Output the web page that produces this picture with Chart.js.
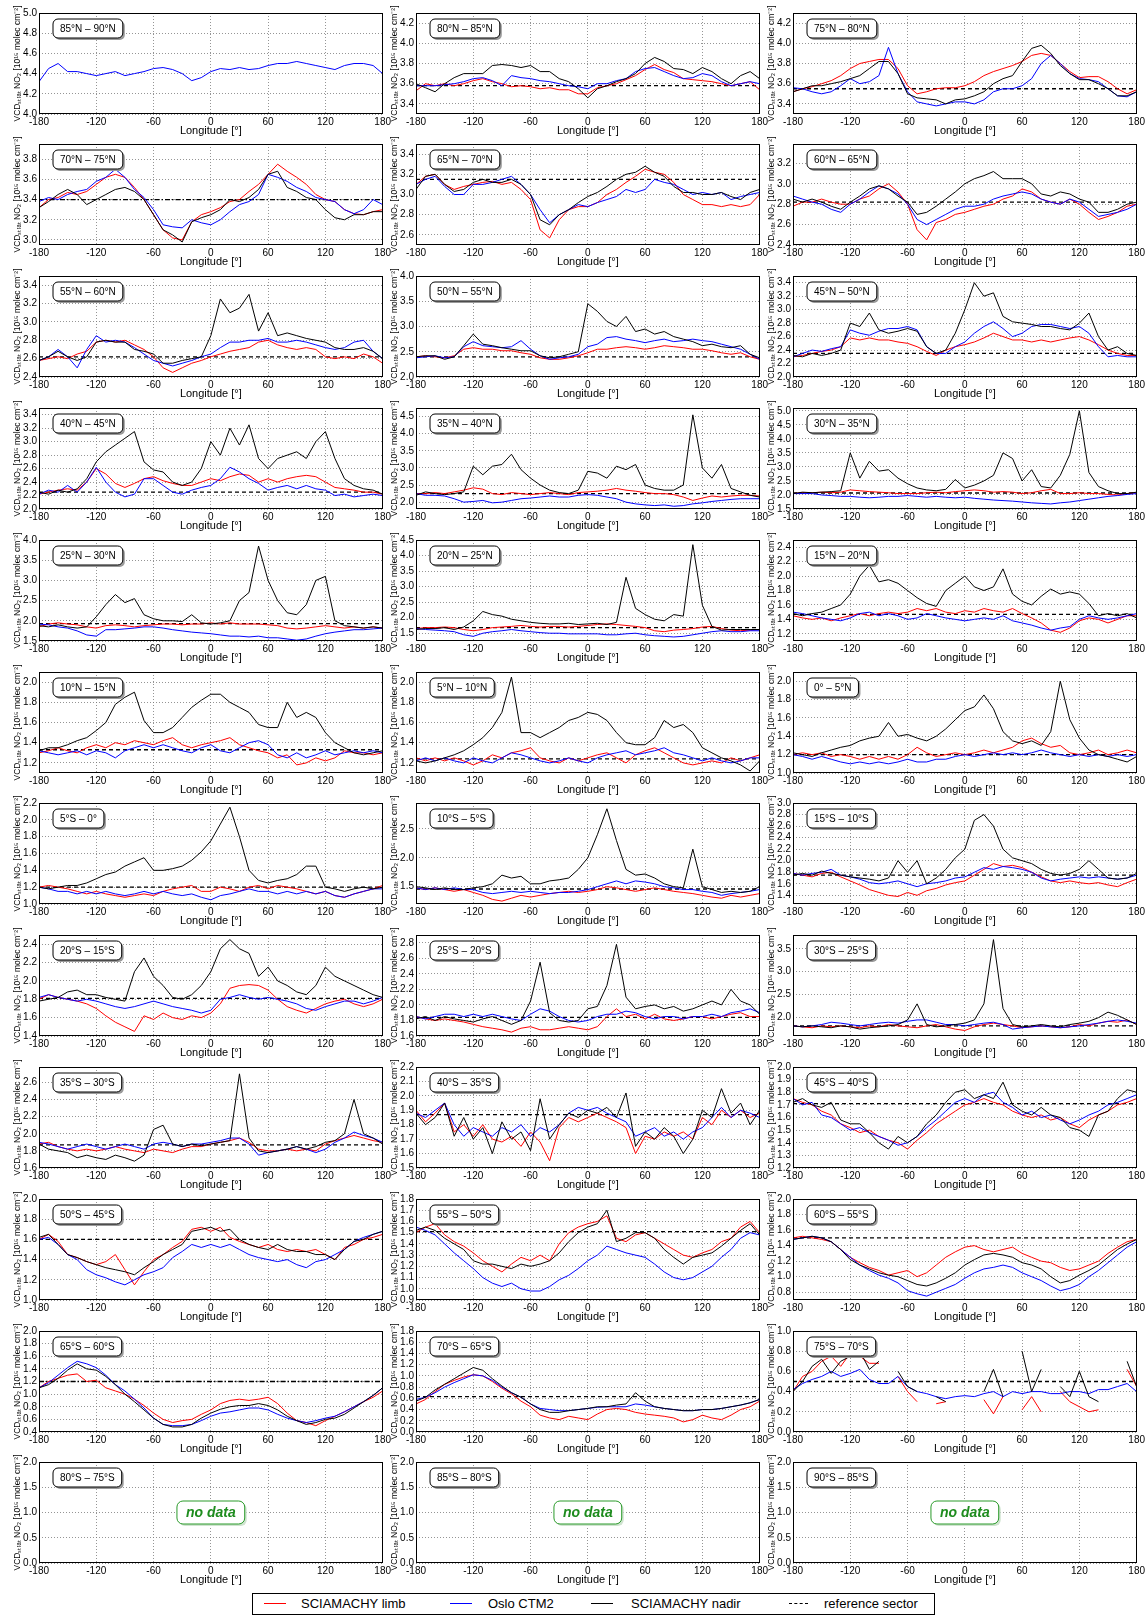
<!DOCTYPE html>
<html>
<head>
<meta charset="utf-8">
<script src="https://cdn.jsdelivr.net/npm/chart.js@4.4.1/dist/chart.umd.min.js"></script>
<style>
  body { margin: 0; background: #fff; width: 1145px; height: 1615px; position: relative; overflow: hidden;
         font-family: 'Liberation Sans', Arial, sans-serif; }
  canvas.panel { position: absolute; }
  #legend { position: absolute; left: 252px; top: 1593px; width: 683px; height: 22px; border: 1px solid #000;
            box-sizing: border-box; background: #fff; font-size: 13px; }
  #legend .ln { position: absolute; top: 9px; width: 22px; height: 0; border-top: 1.5px solid #000; }
  #legend .tx { position: absolute; top: 2px; white-space: nowrap; }
</style>
</head>
<body>
<div id="legend">
  <div class="ln" style="left:11px;border-top-color:#f00"></div><div class="tx" style="left:48px">SCIAMACHY limb</div>
  <div class="ln" style="left:197px;border-top-color:#00f"></div><div class="tx" style="left:235px">Oslo CTM2</div>
  <div class="ln" style="left:338px"></div><div class="tx" style="left:378px">SCIAMACHY nadir</div>
  <div class="ln" style="left:536px;width:19px;border-top-style:dashed"></div><div class="tx" style="left:571px">reference sector</div>
</div>
<script>
// =======================
// DATA
// =======================
const lon = [-180,-170,-160,-150,-140,-130,-120,-110,-100,-90,-80,-70,-60,-50,-40,-30,-20,-10,
             0,10,20,30,40,50,60,70,80,90,100,110,120,130,140,150,160,170,180];

const panelLabels = [
  '85°N – 90°N','80°N – 85°N','75°N – 80°N',
  '70°N – 75°N','65°N – 70°N','60°N – 65°N',
  '55°N – 60°N','50°N – 55°N','45°N – 50°N',
  '40°N – 45°N','35°N – 40°N','30°N – 35°N',
  '25°N – 30°N','20°N – 25°N','15°N – 20°N',
  '10°N – 15°N','5°N – 10°N','0° – 5°N',
  '5°S – 0°','10°S – 5°S','15°S – 10°S',
  '20°S – 15°S','25°S – 20°S','30°S – 25°S',
  '35°S – 30°S','40°S – 35°S','45°S – 40°S',
  '50°S – 45°S','55°S – 50°S','60°S – 55°S',
  '65°S – 60°S','70°S – 65°S','75°S – 70°S',
  '80°S – 75°S','85°S – 80°S','90°S – 85°S'
];

const yMins  = [4.0,3.3,3.3, 2.95,2.5,2.4, 2.4,2.0,2.0, 2.0,1.8,1.5, 1.5,1.25,1.1, 1.1,1.1,1.0,
                1.0,1.2,1.25, 1.4,1.6,1.6, 1.6,1.5,1.2, 1.0,0.9,0.7, 0.4,0.0,0.0, 0.0,0.0,0.0];
const yMaxs  = [5.0,4.3,4.3, 3.95,3.5,3.39, 3.5,4.0,3.5, 3.5,4.75,5.1, 4.0,4.5,2.5, 2.1,2.1,2.1,
                2.2,2.95,3.0, 2.5,2.9,3.8, 2.78,2.2,2.0, 2.0,1.8,2.0, 2.0,1.8,1.0, 2.0,2.0,2.0];
const ySteps = [0.2,0.2,0.2, 0.2,0.2,0.2, 0.2,0.5,0.2, 0.2,0.5,0.5, 0.5,0.5,0.2, 0.2,0.2,0.2,
                0.2,0.5,0.2, 0.2,0.2,0.5, 0.2,0.1,0.1, 0.2,0.1,0.2, 0.2,0.2,0.2, 0.5,0.5,0.5];
const refValues = [null,3.58,3.55, 3.40,3.15,2.82, 2.62,2.40,2.35, 2.25,2.25,2.07, 1.93,1.68,1.47,
                   1.33,1.24,1.20, 1.20,1.46,1.75, 1.81,1.84,1.82, 1.87,1.87,1.71, 1.60,1.51,1.50,
                   1.20,0.63,0.50, null,null,null];
const dashDotPanels = [3, 30];

// 85N-90N (model only)
const ctm_N85_90 = [4.32,4.45,4.50,4.42,4.42,4.40,4.38,4.40,4.42, 4.38,4.40,4.42,4.45,4.46,4.44,4.40,4.33,4.36,
  4.42,4.45,4.44,4.46,4.44,4.45,4.48,4.50,4.50, 4.52,4.50,4.48,4.46,4.44,4.48,4.50,4.50,4.48,4.40];
// 80N-85N
const limb_N80_85 = [3.53,3.60,3.58,3.60,3.58,3.60,3.63,3.65,3.62, 3.60,3.57,3.58,3.57,3.55,3.56,3.54,3.54,3.50,
  3.50,3.56,3.58,3.60,3.64,3.68,3.74,3.79,3.74, 3.71,3.65,3.64,3.63,3.62,3.60,3.58,3.60,3.62,3.54];
const ctm_N80_85 = [3.58,3.58,3.58,3.59,3.60,3.62,3.65,3.66,3.63, 3.58,3.68,3.66,3.65,3.63,3.62,3.60,3.58,3.57,
  3.55,3.60,3.60,3.63,3.65,3.72,3.75,3.76,3.72, 3.68,3.65,3.66,3.70,3.68,3.62,3.58,3.60,3.62,3.60];
const nadir_N80_85 = [3.60,3.56,3.52,3.60,3.66,3.70,3.70,3.70,3.78, 3.79,3.78,3.76,3.78,3.72,3.72,3.65,3.62,3.55,
  3.46,3.55,3.58,3.62,3.65,3.70,3.80,3.86,3.82, 3.75,3.74,3.70,3.76,3.72,3.65,3.60,3.68,3.72,3.65];
// 75N-80N
const limb_N75_80 = [3.52,3.55,3.57,3.60,3.63,3.68,3.75,3.80,3.82, 3.84,3.84,3.75,3.58,3.50,3.52,3.55,3.56,3.56,
  3.58,3.62,3.68,3.72,3.75,3.78,3.82,3.88,3.90, 3.88,3.80,3.72,3.66,3.67,3.67,3.62,3.55,3.50,3.54];
const ctm_N75_80 = [3.56,3.55,3.52,3.50,3.52,3.58,3.65,3.60,3.62, 3.68,3.96,3.70,3.52,3.42,3.40,3.38,3.40,3.42,
  3.42,3.40,3.44,3.52,3.55,3.55,3.58,3.65,3.80, 3.88,3.80,3.70,3.65,3.64,3.62,3.55,3.48,3.47,3.52];
const nadir_N75_80 = [3.52,3.55,3.58,3.58,3.60,3.62,3.65,3.68,3.75, 3.82,3.82,3.70,3.50,3.46,3.45,3.44,3.40,3.44,
  3.45,3.48,3.52,3.60,3.65,3.68,3.82,3.95,3.98, 3.90,3.78,3.70,3.64,3.64,3.60,3.55,3.48,3.48,3.52];
// 70N-75N
const limb_N70_75 = [3.32,3.40,3.42,3.47,3.45,3.48,3.55,3.62,3.65, 3.62,3.52,3.40,3.25,3.10,3.02,3.00,3.18,3.25,
  3.28,3.32,3.38,3.40,3.48,3.55,3.65,3.75,3.68, 3.62,3.55,3.45,3.40,3.38,3.30,3.26,3.25,3.28,3.30];
const ctm_N70_75 = [3.38,3.42,3.40,3.45,3.48,3.50,3.58,3.62,3.70, 3.62,3.50,3.42,3.30,3.15,3.13,3.12,3.20,3.17,
  3.15,3.20,3.28,3.35,3.38,3.45,3.65,3.62,3.58, 3.52,3.48,3.42,3.40,3.38,3.30,3.26,3.30,3.40,3.35];
const nadir_N70_75 = [3.32,3.38,3.45,3.50,3.45,3.35,3.40,3.45,3.50, 3.52,3.48,3.40,3.25,3.10,3.05,2.98,3.18,3.22,
  3.25,3.30,3.40,3.38,3.42,3.50,3.65,3.68,3.52, 3.48,3.42,3.40,3.30,3.22,3.20,3.25,3.25,3.28,3.28];
// 65N-70N
const limb_N65_70 = [3.10,3.18,3.20,3.10,3.05,3.08,3.10,3.12,3.13, 3.10,3.12,3.05,2.95,2.65,2.57,2.75,2.85,2.88,
  2.88,2.92,3.00,3.05,3.12,3.18,3.25,3.22,3.20, 3.12,3.00,2.95,2.90,2.90,2.88,2.90,2.88,2.90,3.00];
const ctm_N65_70 = [3.10,3.15,3.18,3.08,3.00,3.00,3.10,3.10,3.12, 3.15,3.18,3.10,3.00,2.85,2.72,2.80,2.85,2.90,
  2.88,2.92,2.95,2.98,3.05,3.02,3.05,3.15,3.12, 3.10,3.05,3.00,3.02,3.00,3.02,2.95,2.98,3.00,3.02];
const nadir_N65_70 = [3.05,3.18,3.20,3.10,3.03,3.05,3.12,3.15,3.12, 3.12,3.15,3.10,3.00,2.75,2.70,2.80,2.85,2.92,
  2.98,3.02,3.08,3.15,3.20,3.22,3.28,3.22,3.18, 3.08,3.02,3.02,3.00,3.00,3.02,2.98,2.95,3.02,3.05];
// 60N-65N
const limb_N60_65 = [2.78,2.82,2.82,2.85,2.82,2.80,2.80,2.85,2.88, 2.95,3.00,2.92,2.80,2.55,2.45,2.62,2.65,2.70,
  2.72,2.75,2.78,2.80,2.85,2.88,2.95,2.92,2.85, 2.82,2.80,2.85,2.80,2.72,2.65,2.68,2.72,2.78,2.80];
const ctm_N60_65 = [2.88,2.85,2.82,2.80,2.75,2.72,2.80,2.85,2.92, 2.98,2.95,2.90,2.80,2.65,2.60,2.65,2.70,2.75,
  2.78,2.78,2.80,2.85,2.88,2.90,2.92,2.90,2.85, 2.82,2.80,2.85,2.82,2.75,2.68,2.70,2.72,2.75,2.80];
const nadir_N60_65 = [2.85,2.82,2.85,2.82,2.78,2.75,2.82,2.88,2.95, 2.98,2.95,2.88,2.82,2.70,2.72,2.78,2.85,2.92,
  3.00,3.05,3.08,3.12,3.05,3.05,3.05,3.00,2.90, 2.88,2.92,2.90,2.85,2.82,2.72,2.72,2.75,2.80,2.82];
// 55N-60N
const limb_N55_60 = [2.58,2.60,2.62,2.60,2.65,2.68,2.78,2.80,2.78, 2.80,2.75,2.70,2.62,2.50,2.45,2.50,2.55,2.58,
  2.62,2.65,2.68,2.70,2.72,2.78,2.80,2.75,2.72, 2.70,2.72,2.70,2.62,2.60,2.62,2.60,2.65,2.62,2.55];
const ctm_N55_60 = [2.58,2.62,2.70,2.62,2.50,2.70,2.85,2.78,2.80, 2.78,2.72,2.65,2.58,2.55,2.52,2.55,2.58,2.62,
  2.65,2.72,2.78,2.78,2.80,2.80,2.82,2.78,2.78, 2.80,2.78,2.75,2.72,2.70,2.72,2.78,2.80,2.68,2.60];
const nadir_N55_60 = [2.58,2.62,2.68,2.62,2.58,2.62,2.78,2.80,2.78, 2.78,2.70,2.68,2.65,2.55,2.55,2.58,2.60,2.62,
  2.85,3.25,3.10,3.15,3.30,2.90,3.10,2.85,2.88, 2.85,2.82,2.80,2.78,2.72,2.70,2.70,2.72,2.68,2.60];
// 50N-55N
const limb_N50_55 = [2.40,2.42,2.40,2.38,2.42,2.55,2.58,2.55,2.55, 2.52,2.52,2.48,2.45,2.38,2.35,2.35,2.38,2.42,
  2.48,2.55,2.55,2.58,2.60,2.58,2.55,2.58,2.62, 2.60,2.58,2.55,2.55,2.52,2.48,2.45,2.48,2.40,2.35];
const ctm_N50_55 = [2.38,2.40,2.42,2.38,2.40,2.60,2.70,2.62,2.60, 2.58,2.60,2.72,2.55,2.42,2.35,2.38,2.40,2.45,
  2.60,2.65,2.78,2.80,2.75,2.72,2.68,2.72,2.75, 2.70,2.72,2.75,2.72,2.70,2.65,2.60,2.55,2.45,2.35];
const nadir_N50_55 = [2.40,2.42,2.42,2.35,2.40,2.62,2.85,2.65,2.62, 2.58,2.55,2.52,2.52,2.42,2.38,2.40,2.45,2.50,
  3.45,3.30,3.10,3.00,3.20,2.90,2.95,2.85,2.90, 2.80,2.75,2.70,2.62,2.65,2.60,2.58,2.62,2.45,2.38];
// 45N-50N
const limb_N45_50 = [2.30,2.32,2.35,2.38,2.40,2.45,2.58,2.55,2.58, 2.55,2.55,2.52,2.50,2.45,2.38,2.32,2.40,2.45,
  2.48,2.52,2.58,2.65,2.60,2.55,2.55,2.52,2.55, 2.52,2.55,2.58,2.60,2.55,2.48,2.40,2.35,2.32,2.32];
const ctm_N45_50 = [2.30,2.35,2.40,2.38,2.42,2.45,2.70,2.65,2.62, 2.68,2.72,2.72,2.75,2.70,2.45,2.35,2.35,2.45,
  2.52,2.65,2.75,2.82,2.72,2.60,2.65,2.75,2.78, 2.78,2.75,2.72,2.75,2.65,2.45,2.30,2.32,2.30,2.30];
const nadir_N45_50 = [2.32,2.30,2.35,2.32,2.35,2.40,2.80,2.75,2.95, 2.70,2.65,2.68,2.72,2.68,2.45,2.35,2.40,2.65,
  3.00,3.40,3.20,3.25,2.90,2.82,2.80,2.78,2.75, 2.75,2.72,2.70,2.80,2.95,2.60,2.40,2.45,2.35,2.32];
// 40N-45N
const limb_N40_45 = [2.22,2.25,2.28,2.30,2.28,2.40,2.60,2.52,2.38, 2.32,2.38,2.45,2.48,2.42,2.38,2.35,2.35,2.40,
  2.45,2.42,2.48,2.52,2.50,2.40,2.45,2.40,2.45, 2.48,2.50,2.48,2.40,2.32,2.30,2.28,2.25,2.25,2.22];
const ctm_N40_45 = [2.22,2.28,2.25,2.35,2.25,2.40,2.62,2.40,2.25, 2.18,2.22,2.45,2.45,2.35,2.25,2.22,2.28,2.32,
  2.35,2.45,2.62,2.55,2.45,2.38,2.28,2.32,2.35, 2.30,2.35,2.30,2.28,2.20,2.22,2.18,2.20,2.22,2.20];
const nadir_N40_45 = [2.25,2.22,2.28,2.25,2.30,2.45,2.70,2.85,2.95, 3.05,3.15,2.70,2.58,2.55,2.40,2.35,2.40,2.60,
  3.00,2.80,3.20,2.95,3.25,2.75,2.60,2.75,2.80, 2.85,2.75,3.00,3.15,2.75,2.45,2.35,2.30,2.28,2.22];
// 35N-40N
const limb_N35_40 = [2.25,2.25,2.28,2.25,2.30,2.35,2.42,2.38,2.25, 2.22,2.28,2.25,2.22,2.25,2.28,2.25,2.22,2.28,
  2.30,2.32,2.35,2.40,2.35,2.32,2.28,2.25,2.25, 2.22,2.15,2.05,2.12,2.18,2.15,2.18,2.20,2.20,2.18];
const ctm_N35_40 = [2.25,2.20,2.20,2.18,2.10,2.00,2.02,2.05,1.98, 2.00,2.05,2.10,2.12,2.15,2.18,2.15,2.15,2.20,
  2.22,2.20,2.15,2.10,2.00,1.95,1.92,1.90,1.92, 1.88,1.90,1.95,1.98,2.02,2.05,2.08,2.10,2.10,2.10];
const nadir_N35_40 = [2.20,2.30,2.25,2.22,2.25,2.30,3.05,2.80,3.05, 3.10,3.40,2.95,2.70,2.50,2.35,2.28,2.25,2.35,
  2.90,2.85,2.70,3.05,2.95,3.10,2.50,2.40,2.35, 2.35,2.50,4.55,3.00,2.70,3.10,2.40,2.30,2.20,2.15];
// 30N-35N
const limb_N30_35 = [2.05,2.08,2.08,2.10,2.08,2.10,2.18,2.15,2.12, 2.10,2.08,2.05,2.05,2.05,2.08,2.10,2.08,2.12,
  2.15,2.18,2.15,2.10,2.12,2.10,2.05,2.08,2.15, 2.20,2.05,2.05,2.08,2.05,2.05,2.02,2.00,2.05,2.08];
const ctm_N30_35 = [2.05,2.05,2.05,2.00,1.98,1.95,1.95,1.92,1.90, 1.92,1.95,1.95,1.98,1.95,1.92,1.95,1.92,1.90,
  1.92,1.88,1.85,1.82,1.80,1.78,1.75,1.72,1.70, 1.68,1.72,1.75,1.80,1.85,1.90,1.95,1.98,2.02,2.05];
const nadir_N30_35 = [2.05,2.10,2.08,2.10,2.12,2.15,3.50,2.60,3.20, 2.85,2.90,2.60,2.40,2.25,2.18,2.15,2.20,2.55,
  2.25,2.35,2.50,2.70,3.50,3.30,2.50,2.90,2.30, 2.25,2.70,3.45,5.00,2.80,2.30,2.15,2.05,2.05,2.10];
// 25N-30N
const limb_N25_30 = [1.85,1.92,1.95,1.92,1.90,1.85,1.82,1.88,1.90, 1.88,1.85,1.88,1.90,1.92,1.92,1.90,1.92,1.92,
  1.95,1.92,1.95,1.92,1.92,1.92,1.90,1.88,1.82, 1.80,1.82,1.85,1.88,1.85,1.82,1.85,1.82,1.85,1.82];
const ctm_N25_30 = [1.92,1.90,1.85,1.82,1.75,1.65,1.62,1.78,1.78, 1.80,1.82,1.85,1.85,1.82,1.78,1.75,1.72,1.70,
  1.68,1.65,1.62,1.62,1.60,1.62,1.58,1.58,1.55, 1.52,1.55,1.62,1.68,1.72,1.75,1.78,1.78,1.80,1.82];
const nadir_N25_30 = [1.88,1.85,1.90,1.85,1.82,1.85,2.10,2.40,2.65, 2.45,2.55,2.15,2.05,2.00,2.00,1.98,2.15,1.95,
  1.92,1.95,2.00,2.50,2.70,3.85,3.00,2.50,2.20, 2.15,2.40,3.00,3.10,2.00,1.88,1.85,1.82,1.85,1.82];
// 20N-25N
const limb_N20_25 = [1.65,1.68,1.68,1.70,1.68,1.62,1.58,1.62,1.68, 1.70,1.72,1.75,1.72,1.70,1.72,1.72,1.70,1.72,
  1.75,1.78,1.80,1.78,1.75,1.72,1.68,1.58,1.55, 1.60,1.62,1.65,1.70,1.72,1.65,1.60,1.58,1.60,1.62];
const ctm_N20_25 = [1.65,1.62,1.60,1.58,1.55,1.45,1.40,1.50,1.55, 1.58,1.62,1.58,1.55,1.52,1.50,1.50,1.48,1.48,
  1.48,1.48,1.45,1.45,1.48,1.50,1.45,1.42,1.40, 1.38,1.40,1.45,1.50,1.55,1.58,1.55,1.55,1.58,1.58];
const nadir_N20_25 = [1.62,1.65,1.65,1.68,1.62,1.70,1.90,2.20,2.10, 2.05,1.95,1.90,1.85,1.82,1.80,1.80,1.82,1.78,
  1.80,1.82,1.78,1.85,3.30,2.30,2.10,1.95,1.90, 2.10,2.05,4.35,2.40,1.72,1.60,1.62,1.62,1.62,1.62];
// 15N-20N
const limb_N15_20 = [1.45,1.42,1.40,1.42,1.38,1.42,1.45,1.48,1.45, 1.48,1.50,1.48,1.50,1.55,1.52,1.55,1.50,1.48,
  1.52,1.50,1.55,1.52,1.50,1.55,1.48,1.42,1.35, 1.25,1.22,1.28,1.38,1.42,1.40,1.35,1.40,1.45,1.45];
const ctm_N15_20 = [1.50,1.48,1.45,1.42,1.40,1.38,1.42,1.48,1.50, 1.45,1.48,1.45,1.40,1.42,1.48,1.45,1.42,1.40,
  1.38,1.40,1.42,1.40,1.45,1.38,1.35,1.32,1.28, 1.25,1.28,1.30,1.40,1.45,1.42,1.40,1.42,1.45,1.48];
const nadir_N15_20 = [1.48,1.45,1.48,1.50,1.55,1.60,1.75,2.00,2.15, 1.92,1.95,1.90,1.80,1.70,1.62,1.58,1.80,1.90,
  2.00,1.85,1.80,1.85,2.10,1.75,1.65,1.60,1.72, 1.82,1.75,1.78,1.75,1.62,1.45,1.48,1.45,1.48,1.42];
// 10N-15N
const limb_N10_15 = [1.30,1.32,1.35,1.32,1.30,1.35,1.38,1.35,1.40, 1.38,1.42,1.40,1.38,1.42,1.45,1.38,1.35,1.38,
  1.40,1.42,1.45,1.38,1.35,1.32,1.30,1.25,1.28, 1.18,1.20,1.25,1.22,1.25,1.32,1.30,1.30,1.28,1.30];
const ctm_N10_15 = [1.32,1.30,1.28,1.30,1.32,1.28,1.32,1.30,1.25, 1.32,1.35,1.38,1.35,1.38,1.35,1.32,1.30,1.35,
  1.38,1.32,1.30,1.35,1.40,1.42,1.38,1.28,1.25, 1.30,1.25,1.28,1.32,1.28,1.30,1.32,1.30,1.32,1.30];
const nadir_N10_15 = [1.32,1.35,1.35,1.38,1.42,1.45,1.52,1.60,1.78, 1.85,1.90,1.62,1.50,1.50,1.55,1.65,1.75,1.82,
  1.88,1.88,1.80,1.75,1.70,1.58,1.55,1.55,1.80, 1.65,1.70,1.65,1.50,1.40,1.35,1.30,1.28,1.30,1.32];
// 5N-10N
const limb_N5_10 = [1.25,1.22,1.25,1.22,1.25,1.22,1.18,1.22,1.28, 1.25,1.30,1.32,1.35,1.25,1.22,1.20,1.25,1.22,
  1.25,1.28,1.30,1.25,1.20,1.28,1.32,1.35,1.30, 1.25,1.20,1.18,1.20,1.22,1.20,1.25,1.22,1.25,1.28];
const ctm_N5_10 = [1.22,1.25,1.22,1.25,1.22,1.20,1.25,1.22,1.20, 1.25,1.30,1.28,1.25,1.22,1.20,1.22,1.25,1.22,
  1.20,1.25,1.28,1.30,1.32,1.28,1.30,1.32,1.35, 1.30,1.28,1.25,1.22,1.25,1.22,1.20,1.22,1.25,1.25];
const nadir_N5_10 = [1.22,1.20,1.22,1.25,1.28,1.32,1.38,1.45,1.55, 1.70,2.05,1.50,1.50,1.45,1.50,1.55,1.62,1.65,
  1.70,1.68,1.62,1.50,1.40,1.38,1.38,1.45,1.62, 1.55,1.58,1.50,1.35,1.30,1.25,1.22,1.18,1.12,1.22];
// 0-5N
const limb_N0_5 = [1.20,1.22,1.20,1.22,1.18,1.20,1.18,1.15,1.18, 1.15,1.18,1.15,1.20,1.28,1.22,1.18,1.20,1.22,
  1.20,1.22,1.25,1.22,1.25,1.28,1.35,1.38,1.32, 1.28,1.30,1.22,1.20,1.22,1.25,1.20,1.22,1.25,1.22];
const ctm_N0_5 = [1.20,1.18,1.15,1.18,1.15,1.12,1.10,1.12,1.10, 1.12,1.10,1.12,1.15,1.12,1.12,1.15,1.15,1.18,
  1.20,1.18,1.20,1.22,1.20,1.22,1.20,1.22,1.25, 1.22,1.20,1.18,1.20,1.18,1.20,1.18,1.20,1.18,1.20];
const nadir_N0_5 = [1.22,1.20,1.18,1.22,1.25,1.28,1.30,1.35,1.38, 1.40,1.55,1.40,1.42,1.38,1.35,1.40,1.48,1.58,
  1.68,1.72,1.85,1.70,1.45,1.35,1.32,1.35,1.30, 1.45,2.00,1.58,1.38,1.25,1.20,1.18,1.15,1.12,1.18];
// 5S-0
const limb_S0_5 = [1.20,1.22,1.20,1.18,1.15,1.12,1.15,1.12,1.10, 1.08,1.10,1.12,1.10,1.15,1.18,1.20,1.22,1.15,
  1.15,1.20,1.18,1.15,1.20,1.22,1.18,1.22,1.20, 1.18,1.15,1.12,1.15,1.10,1.08,1.12,1.15,1.18,1.22];
const ctm_S0_5 = [1.20,1.18,1.15,1.15,1.12,1.15,1.12,1.15,1.12, 1.10,1.12,1.15,1.12,1.15,1.12,1.10,1.12,1.08,
  1.05,1.10,1.12,1.15,1.18,1.15,1.15,1.12,1.15, 1.12,1.15,1.12,1.15,1.10,1.08,1.12,1.15,1.18,1.18];
const nadir_S0_5 = [1.20,1.18,1.20,1.22,1.22,1.25,1.30,1.35,1.38, 1.45,1.50,1.55,1.40,1.40,1.42,1.45,1.52,1.62,
  1.75,1.95,2.15,1.80,1.40,1.28,1.25,1.28,1.30, 1.35,1.45,1.45,1.20,1.18,1.15,1.18,1.20,1.18,1.20];
// 10S-5S
const limb_S5_10 = [1.48,1.45,1.48,1.45,1.42,1.45,1.40,1.35,1.28, 1.25,1.30,1.35,1.32,1.35,1.38,1.40,1.42,1.40,
  1.42,1.45,1.50,1.48,1.45,1.42,1.45,1.48,1.45, 1.42,1.40,1.38,1.35,1.32,1.30,1.35,1.32,1.35,1.38];
const ctm_S5_10 = [1.48,1.45,1.48,1.45,1.48,1.45,1.45,1.40,1.38, 1.40,1.42,1.40,1.42,1.40,1.38,1.40,1.40,1.42,
  1.45,1.50,1.55,1.60,1.55,1.60,1.58,1.55,1.50, 1.48,1.45,1.45,1.42,1.40,1.35,1.38,1.40,1.42,1.45];
const nadir_S5_10 = [1.50,1.48,1.45,1.48,1.45,1.45,1.48,1.50,1.55, 1.70,1.65,1.68,1.55,1.55,1.60,1.62,1.65,1.80,
  2.00,2.40,2.85,2.30,1.80,1.70,1.72,1.65,1.55, 1.50,1.48,2.15,1.50,1.45,1.40,1.42,1.40,1.42,1.50];
// 15S-10S
const limb_S10_15 = [1.78,1.75,1.72,1.78,1.80,1.72,1.65,1.58,1.50, 1.45,1.40,1.38,1.45,1.40,1.48,1.52,1.58,1.62,
  1.65,1.75,1.85,1.95,1.90,1.92,1.88,1.80,1.72, 1.65,1.62,1.65,1.62,1.60,1.62,1.58,1.55,1.62,1.68];
const ctm_S10_15 = [1.78,1.75,1.78,1.80,1.85,1.75,1.72,1.68,1.62, 1.60,1.62,1.65,1.60,1.55,1.60,1.62,1.65,1.70,
  1.72,1.80,1.88,1.85,1.90,1.88,1.85,1.80,1.70, 1.65,1.68,1.70,1.72,1.70,1.72,1.70,1.68,1.70,1.75];
const nadir_S10_15 = [1.75,1.78,1.75,1.82,1.78,1.75,1.72,1.70,1.68, 1.65,1.70,2.00,1.80,2.00,1.60,1.70,1.85,2.05,
  2.20,2.70,2.80,2.60,2.20,2.05,2.00,1.95,1.85, 1.78,1.75,1.78,1.85,2.00,1.85,1.70,1.68,1.70,1.78];
// 20S-15S
const limb_S15_20 = [1.80,1.85,1.82,1.80,1.78,1.75,1.70,1.62,1.55, 1.50,1.45,1.62,1.58,1.65,1.60,1.58,1.62,1.60,
  1.65,1.75,1.92,1.95,1.96,1.95,1.90,1.80,1.72, 1.68,1.65,1.70,1.75,1.78,1.80,1.75,1.72,1.75,1.80];
const ctm_S15_20 = [1.82,1.85,1.82,1.80,1.78,1.80,1.78,1.75,1.72, 1.70,1.72,1.75,1.78,1.75,1.72,1.70,1.68,1.65,
  1.68,1.80,1.82,1.85,1.82,1.80,1.82,1.80,1.78, 1.75,1.70,1.68,1.72,1.75,1.78,1.78,1.75,1.78,1.82];
const nadir_S15_20 = [1.78,1.80,1.82,1.88,1.90,1.85,1.85,1.82,1.80, 1.78,2.10,2.25,2.05,1.95,1.82,1.80,1.85,1.95,
  2.10,2.35,2.45,2.35,2.30,2.05,2.15,2.00,1.95, 1.88,1.85,1.95,2.15,2.05,2.00,1.95,1.90,1.85,1.82];
// 25S-20S
const limb_S20_25 = [1.85,1.82,1.80,1.82,1.80,1.78,1.75,1.72,1.70, 1.68,1.65,1.70,1.72,1.68,1.68,1.70,1.72,1.70,
  1.68,1.72,1.85,1.95,1.85,1.88,1.82,1.88,1.82, 1.80,1.82,1.85,1.85,1.82,1.85,1.88,1.90,1.85,1.85];
const ctm_S20_25 = [1.85,1.82,1.85,1.88,1.88,1.85,1.88,1.85,1.88, 1.85,1.82,1.80,1.88,1.95,1.92,1.85,1.80,1.78,
  1.80,1.85,1.88,1.88,1.92,1.90,1.85,1.82,1.85, 1.85,1.82,1.85,1.85,1.88,1.85,1.90,1.92,1.95,1.90];
const nadir_S20_25 = [1.82,1.85,1.80,1.85,1.82,1.80,1.78,1.82,1.85, 1.80,1.75,1.80,2.05,2.55,1.90,1.80,1.78,1.80,
  1.95,1.98,2.25,2.78,2.10,1.95,1.98,2.00,1.95, 1.98,1.92,1.95,2.00,2.05,2.00,2.20,2.05,2.00,1.88];
// 30S-25S
const limb_S25_30 = [1.82,1.80,1.78,1.82,1.80,1.82,1.80,1.78,1.82, 1.80,1.85,1.82,1.80,1.78,1.82,1.85,1.80,1.75,
  1.72,1.80,1.85,1.88,1.85,1.82,1.78,1.80,1.82, 1.80,1.78,1.80,1.85,1.82,1.88,1.92,1.90,1.95,1.85];
const ctm_S25_30 = [1.82,1.80,1.82,1.85,1.90,1.88,1.85,1.82,1.85, 1.88,1.90,1.88,1.92,1.95,1.95,1.90,1.85,1.85,
  1.82,1.85,1.88,1.90,1.85,1.75,1.78,1.80,1.82, 1.80,1.78,1.80,1.82,1.85,1.88,1.92,1.95,1.92,1.88];
const nadir_S25_30 = [1.82,1.80,1.82,1.80,1.78,1.82,1.80,1.75,1.78, 1.80,1.82,1.85,1.95,2.30,1.85,1.80,1.82,1.85,
  1.88,1.95,2.30,3.70,2.20,1.85,1.80,1.82,1.85, 1.82,1.80,1.85,1.88,1.92,2.00,2.12,2.05,1.95,1.85];
// 35S-30S
const limb_S30_35 = [1.88,1.90,1.85,1.82,1.80,1.82,1.80,1.82,1.85, 1.82,1.80,1.78,1.82,1.80,1.78,1.82,1.85,1.85,
  1.88,1.90,1.92,1.95,1.90,1.82,1.80,1.80,1.82, 1.80,1.82,1.80,1.88,1.92,1.95,1.98,1.95,1.92,1.90];
const ctm_S30_35 = [1.90,1.88,1.85,1.82,1.85,1.88,1.85,1.82,1.85, 1.88,1.85,1.82,1.88,1.90,1.88,1.85,1.88,1.88,
  1.90,1.92,1.95,1.95,1.88,1.75,1.78,1.80,1.82, 1.85,1.82,1.78,1.82,1.90,1.95,2.02,1.98,1.95,1.90];
const nadir_S30_35 = [1.88,1.82,1.80,1.78,1.72,1.75,1.72,1.70,1.75, 1.72,1.68,1.75,2.05,2.10,1.88,1.85,1.88,1.86,
  1.88,1.90,1.92,2.70,1.95,1.80,1.78,1.80,1.82, 1.85,1.82,1.85,1.90,1.92,2.00,2.40,2.00,1.95,1.88];
// 40S-35S
const limb_S35_40 = [1.90,1.82,1.88,1.95,1.75,1.80,1.72,1.80,1.70, 1.68,1.72,1.65,1.75,1.68,1.55,1.78,1.85,1.82,
  1.85,1.88,1.85,1.82,1.78,1.60,1.72,1.70,1.75, 1.72,1.75,1.70,1.85,1.80,1.90,1.85,1.90,1.85,1.88];
const ctm_S35_40 = [1.88,1.85,1.90,1.95,1.80,1.72,1.78,1.75,1.72, 1.78,1.75,1.80,1.72,1.78,1.75,1.80,1.88,1.92,
  1.90,1.92,1.88,1.85,1.82,1.72,1.75,1.78,1.72, 1.75,1.70,1.75,1.78,1.85,1.92,1.85,1.90,1.88,1.85];
const nadir_S35_40 = [1.88,1.80,1.85,1.95,1.72,1.85,1.70,1.78,1.60, 1.82,1.70,1.75,1.62,1.98,1.70,1.80,1.88,1.85,
  1.90,1.88,1.92,1.85,2.02,1.65,1.75,1.70,1.78, 1.72,1.60,1.70,1.90,1.85,2.05,1.88,1.95,1.80,1.90];
// 45S-40S
const limb_S40_45 = [1.75,1.72,1.70,1.65,1.62,1.55,1.52,1.48,1.50, 1.45,1.42,1.40,1.35,1.42,1.48,1.55,1.60,1.65,
  1.70,1.72,1.75,1.72,1.70,1.65,1.62,1.60,1.62, 1.58,1.60,1.55,1.52,1.58,1.62,1.65,1.70,1.72,1.75];
const ctm_S40_45 = [1.75,1.70,1.72,1.62,1.60,1.55,1.50,1.52,1.48, 1.45,1.42,1.38,1.40,1.45,1.52,1.58,1.65,1.72,
  1.75,1.72,1.78,1.80,1.72,1.68,1.62,1.65,1.60, 1.62,1.58,1.55,1.58,1.62,1.65,1.70,1.72,1.75,1.78];
const nadir_S40_45 = [1.72,1.75,1.70,1.68,1.72,1.58,1.55,1.55,1.48, 1.40,1.35,1.45,1.40,1.45,1.55,1.62,1.72,1.80,
  1.82,1.75,1.78,1.75,1.88,1.70,1.65,1.62,1.68, 1.62,1.60,1.52,1.50,1.45,1.62,1.65,1.75,1.82,1.80];
// 50S-45S
const limb_S45_50 = [1.60,1.65,1.58,1.45,1.42,1.38,1.35,1.38,1.45, 1.30,1.15,1.28,1.40,1.45,1.52,1.58,1.70,1.72,
  1.68,1.72,1.62,1.58,1.55,1.52,1.55,1.50,1.48, 1.50,1.48,1.50,1.45,1.40,1.52,1.55,1.60,1.62,1.65];
const ctm_S45_50 = [1.60,1.62,1.55,1.45,1.40,1.30,1.25,1.22,1.18, 1.15,1.20,1.25,1.28,1.32,1.42,1.48,1.55,1.52,
  1.55,1.52,1.55,1.50,1.45,1.42,1.40,1.38,1.40, 1.35,1.32,1.38,1.40,1.45,1.50,1.58,1.62,1.65,1.68];
const nadir_S45_50 = [1.62,1.65,1.55,1.45,1.42,1.38,1.35,1.32,1.30, 1.28,1.25,1.32,1.38,1.45,1.50,1.55,1.68,1.70,
  1.72,1.68,1.70,1.60,1.55,1.52,1.50,1.55,1.50, 1.48,1.48,1.45,1.45,1.40,1.50,1.58,1.60,1.65,1.68];
// 55S-50S
const limb_S50_55 = [1.50,1.55,1.58,1.48,1.42,1.38,1.32,1.25,1.20, 1.15,1.22,1.28,1.25,1.30,1.25,1.40,1.50,1.55,
  1.58,1.60,1.65,1.45,1.42,1.48,1.50,1.45,1.40, 1.35,1.30,1.28,1.32,1.35,1.42,1.45,1.55,1.60,1.50];
const ctm_S50_55 = [1.55,1.52,1.48,1.40,1.32,1.25,1.18,1.10,1.05, 1.02,1.05,1.00,0.98,0.98,1.02,1.08,1.12,1.18,
  1.25,1.30,1.38,1.35,1.32,1.30,1.28,1.22,1.15, 1.10,1.08,1.10,1.15,1.20,1.28,1.35,1.45,1.50,1.48];
const nadir_S50_55 = [1.52,1.55,1.52,1.45,1.40,1.35,1.25,1.22,1.22, 1.20,1.18,1.22,1.20,1.22,1.25,1.32,1.42,1.50,
  1.55,1.58,1.70,1.42,1.45,1.50,1.50,1.45,1.35, 1.28,1.22,1.28,1.30,1.32,1.38,1.45,1.52,1.58,1.48];
// 60S-55S
const limb_S55_60 = [1.50,1.52,1.50,1.48,1.45,1.35,1.25,1.18,1.12, 1.08,1.02,1.05,1.08,1.00,1.05,1.15,1.25,1.32,
  1.38,1.40,1.35,1.32,1.35,1.38,1.30,1.25,1.20, 1.18,1.12,1.08,1.10,1.15,1.20,1.30,1.38,1.45,1.48];
const ctm_S55_60 = [1.48,1.50,1.52,1.50,1.45,1.35,1.25,1.15,1.08, 1.02,0.98,0.92,0.82,0.78,0.75,0.80,0.85,0.90,
  0.98,1.05,1.10,1.12,1.15,1.12,1.05,1.00,0.95, 0.88,0.82,0.85,0.90,1.00,1.08,1.18,1.28,1.38,1.45];
const nadir_S55_60 = [1.48,1.50,1.52,1.50,1.45,1.35,1.22,1.15,1.10, 1.05,1.02,1.00,0.95,0.90,0.88,0.92,0.98,1.05,
  1.15,1.22,1.28,1.30,1.28,1.25,1.18,1.15,1.10, 1.00,0.92,0.95,1.02,1.08,1.15,1.25,1.35,1.42,1.48];
// 65S-60S
const limb_S60_65 = [1.10,1.20,1.25,1.30,1.32,1.20,1.22,1.10,1.05, 1.00,0.92,0.82,0.70,0.60,0.55,0.58,0.60,0.68,
  0.75,0.85,0.90,0.92,0.90,0.92,0.95,0.85,0.70, 0.58,0.55,0.50,0.58,0.65,0.72,0.80,0.88,0.95,1.05];
const ctm_S60_65 = [1.10,1.18,1.30,1.42,1.52,1.48,1.42,1.30,1.15, 1.05,0.92,0.78,0.62,0.52,0.50,0.50,0.52,0.58,
  0.65,0.70,0.72,0.75,0.78,0.78,0.75,0.68,0.62, 0.58,0.55,0.58,0.62,0.65,0.72,0.80,0.88,0.98,1.10];
const nadir_S60_65 = [1.10,1.15,1.25,1.38,1.48,1.40,1.38,1.28,1.15, 1.00,0.88,0.75,0.62,0.52,0.48,0.48,0.52,0.62,
  0.70,0.76,0.80,0.82,0.82,0.85,0.82,0.75,0.65, 0.58,0.52,0.55,0.60,0.62,0.68,0.78,0.88,0.98,1.10];
// 70S-65S
const limb_S65_70 = [0.50,0.58,0.72,0.85,0.92,0.98,1.02,1.00,0.90, 0.78,0.68,0.55,0.45,0.30,0.25,0.22,0.28,0.25,
  0.22,0.32,0.40,0.42,0.40,0.35,0.32,0.30,0.28, 0.25,0.18,0.22,0.30,0.25,0.22,0.30,0.40,0.45,0.55];
const ctm_S65_70 = [0.58,0.62,0.70,0.80,0.88,0.95,1.02,1.00,0.92, 0.80,0.70,0.62,0.50,0.42,0.40,0.38,0.38,0.40,
  0.42,0.44,0.45,0.45,0.45,0.50,0.48,0.45,0.42, 0.40,0.38,0.38,0.40,0.40,0.42,0.45,0.48,0.52,0.58];
const nadir_S65_70 = [0.55,0.62,0.75,0.85,0.95,1.05,1.15,1.10,0.95, 0.82,0.70,0.62,0.50,0.40,0.35,0.35,0.38,0.40,
  0.42,0.45,0.45,0.48,0.50,0.70,0.55,0.45,0.42, 0.40,0.38,0.38,0.40,0.40,0.42,0.45,0.48,0.52,0.58];
// 75S-70S (gappy)
const limb_S70_75 = [0.40,0.55,0.60,0.70,0.75,0.65,0.78,0.75,0.68, 0.68,null,0.55,0.40,0.30,null,0.28,0.30,null,
  null,null,0.32,0.18,0.35,null,0.22,0.35,0.20, null,0.40,0.30,0.25,0.20,0.22,null,null,0.62,0.45];
const ctm_S70_75 = [0.42,0.48,0.52,0.55,0.60,0.55,0.58,0.62,0.52, 0.48,0.48,0.55,0.45,0.40,0.38,0.35,0.33,0.35,
  0.36,0.35,0.38,0.40,0.35,0.40,0.38,0.40,0.40, 0.38,0.38,0.40,0.40,0.38,0.42,0.42,0.45,0.48,0.40];
const nadir_S70_75 = [0.40,0.50,0.65,0.72,0.58,0.70,0.75,0.80,0.62, 0.70,null,0.60,0.45,0.40,null,0.35,0.30,null,
  null,null,0.40,0.62,0.35,null,0.80,0.40,0.62, null,0.45,0.35,0.60,0.35,0.30,null,null,0.70,0.45];

const limbSeries = [null,limb_N80_85,limb_N75_80, limb_N70_75,limb_N65_70,limb_N60_65, limb_N55_60,limb_N50_55,limb_N45_50,
  limb_N40_45,limb_N35_40,limb_N30_35, limb_N25_30,limb_N20_25,limb_N15_20, limb_N10_15,limb_N5_10,limb_N0_5,
  limb_S0_5,limb_S5_10,limb_S10_15, limb_S15_20,limb_S20_25,limb_S25_30, limb_S30_35,limb_S35_40,limb_S40_45,
  limb_S45_50,limb_S50_55,limb_S55_60, limb_S60_65,limb_S65_70,limb_S70_75, null,null,null];
const ctmSeries = [ctm_N85_90,ctm_N80_85,ctm_N75_80, ctm_N70_75,ctm_N65_70,ctm_N60_65, ctm_N55_60,ctm_N50_55,ctm_N45_50,
  ctm_N40_45,ctm_N35_40,ctm_N30_35, ctm_N25_30,ctm_N20_25,ctm_N15_20, ctm_N10_15,ctm_N5_10,ctm_N0_5,
  ctm_S0_5,ctm_S5_10,ctm_S10_15, ctm_S15_20,ctm_S20_25,ctm_S25_30, ctm_S30_35,ctm_S35_40,ctm_S40_45,
  ctm_S45_50,ctm_S50_55,ctm_S55_60, ctm_S60_65,ctm_S65_70,ctm_S70_75, null,null,null];
const nadirSeries = [null,nadir_N80_85,nadir_N75_80, nadir_N70_75,nadir_N65_70,nadir_N60_65, nadir_N55_60,nadir_N50_55,nadir_N45_50,
  nadir_N40_45,nadir_N35_40,nadir_N30_35, nadir_N25_30,nadir_N20_25,nadir_N15_20, nadir_N10_15,nadir_N5_10,nadir_N0_5,
  nadir_S0_5,nadir_S5_10,nadir_S10_15, nadir_S15_20,nadir_S20_25,nadir_S25_30, nadir_S30_35,nadir_S35_40,nadir_S40_45,
  nadir_S45_50,nadir_S50_55,nadir_S55_60, nadir_S60_65,nadir_S65_70,nadir_S70_75, null,null,null];

const xTicks = [-180,-120,-60,0,60,120,180];
const yTitle = 'VCDₛₜᵣₐₜ NO₂ [10¹⁵ molec cm⁻²]';

// =======================
// LAYOUT
// =======================
const COL_LEFT = [0, 377, 754];
const AXIS_W = 39, PLOT_W = 345, PLOT_H = 101, PAD_TOP = 12, PAD_RIGHT = 9, XAXIS_H = 24;
const TICK_FONT = { family: "'Liberation Sans Narrow','Liberation Sans',sans-serif", size: 10 };

function tickValues(min, max, step) {
  const out = [];
  for (let k = Math.ceil(min / step - 1e-6); k * step <= max + 1e-6; k++) out.push(+(k * step).toFixed(2));
  return out;
}

function toPoints(vals) {
  return lon.map((x, i) => ({ x: x, y: vals[i] }));
}

// frame + panel label + "no data" box
const deco = {
  id: 'deco',
  afterDatasetsDraw(chart) {
    const { ctx, chartArea: a } = chart;
    ctx.save();
    ctx.strokeStyle = '#000';
    ctx.lineWidth = 1;
    ctx.strokeRect(Math.round(a.left) + 0.5, Math.round(a.top) + 0.5,
                   Math.round(a.right - a.left) - 1, Math.round(a.bottom - a.top) - 1);
    ctx.restore();
  },
  afterDraw(chart, args, opts) {
    const { ctx, chartArea: a } = chart;
    ctx.save();
    ctx.font = "10px 'Liberation Sans', sans-serif";
    const tw = ctx.measureText(opts.label).width;
    const bx = a.left + 14, by = a.top + 6, bw = tw + 14, bh = 19;
    ctx.beginPath(); ctx.roundRect(bx + 2, by + 2, bw, bh, 5); ctx.fillStyle = '#9a9a9a'; ctx.fill();
    ctx.beginPath(); ctx.roundRect(bx, by, bw, bh, 5); ctx.fillStyle = '#fff'; ctx.fill();
    ctx.strokeStyle = '#000'; ctx.lineWidth = 1; ctx.stroke();
    ctx.fillStyle = '#000'; ctx.textBaseline = 'middle'; ctx.textAlign = 'left';
    ctx.fillText(opts.label, bx + 7, by + bh / 2 + 0.5);

    if (opts.noData) {
      ctx.font = "italic bold 14px 'Liberation Sans', sans-serif";
      const nw = ctx.measureText('no data').width + 18, nh = 23;
      const cx = (a.left + a.right) / 2, cy = (a.top + a.bottom) / 2;
      ctx.beginPath(); ctx.roundRect(cx - nw / 2 + 2, cy - nh / 2 + 2, nw, nh, 6); ctx.fillStyle = '#cfe3cf'; ctx.fill();
      ctx.beginPath(); ctx.roundRect(cx - nw / 2, cy - nh / 2, nw, nh, 6); ctx.fillStyle = '#fff'; ctx.fill();
      ctx.strokeStyle = '#2a9a2a'; ctx.stroke();
      ctx.fillStyle = '#1e8c1e'; ctx.textAlign = 'center';
      ctx.fillText('no data', cx, cy + 1);
    }
    ctx.restore();
  }
};

// =======================
// BUILD PANELS
// =======================
panelLabels.forEach((label, i) => {
  const row = Math.floor(i / 3), col = i % 3;
  const canvas = document.createElement('canvas');
  canvas.className = 'panel';
  canvas.width = AXIS_W + PLOT_W + PAD_RIGHT;
  canvas.height = PAD_TOP + PLOT_H + XAXIS_H;
  canvas.style.left = COL_LEFT[col] + 'px';
  canvas.style.top = (Math.round(12.5 + 131.8 * row) - PAD_TOP) + 'px';
  document.body.appendChild(canvas);

  const datasets = [];
  if (nadirSeries[i]) datasets.push({ data: toPoints(nadirSeries[i]), borderColor: '#000000' });
  if (ctmSeries[i]) datasets.push({ data: toPoints(ctmSeries[i]), borderColor: '#0000ff' });
  if (limbSeries[i]) datasets.push({ data: toPoints(limbSeries[i]), borderColor: '#ff0000' });
  if (refValues[i] !== null) {
    datasets.push({ data: [{ x: -180, y: refValues[i] }, { x: 180, y: refValues[i] }],
                    borderColor: '#000000', borderWidth: 1.3,
                    borderDash: dashDotPanels.includes(i) ? [5, 2, 1.5, 2] : [4, 3] });
  }
  const yT = tickValues(yMins[i], yMaxs[i], ySteps[i]);

  new Chart(canvas.getContext('2d'), {
    type: 'line',
    data: { datasets: datasets },
    plugins: [deco],
    options: {
      responsive: false,
      animation: false,
      devicePixelRatio: 1,
      layout: { padding: { top: PAD_TOP, right: PAD_RIGHT, left: 0, bottom: 0 } },
      elements: { point: { radius: 0 }, line: { borderWidth: 1, tension: 0 } },
      plugins: {
        legend: { display: false },
        tooltip: { enabled: false },
        deco: { label: label, noData: i >= 33 }
      },
      scales: {
        x: {
          type: 'linear', min: -180, max: 180,
          afterBuildTicks: s => { s.ticks = xTicks.map(v => ({ value: v })); },
          ticks: { font: TICK_FONT, color: '#000', padding: 2, maxRotation: 0, autoSkip: false,
                   callback: v => String(v) },
          grid: { color: '#7a7a7a', lineWidth: 0.8, drawTicks: false },
          border: { display: false, dash: [1, 2] },
          title: { display: true, text: 'Longitude [°]', color: '#000',
                   font: { family: "'Liberation Sans',sans-serif", size: 11 }, padding: { top: 0, bottom: 0 } },
          afterFit: s => { s.height = XAXIS_H; }
        },
        y: {
          type: 'linear', min: yMins[i], max: yMaxs[i],
          afterBuildTicks: s => { s.ticks = yT.map(v => ({ value: v })); },
          ticks: { font: TICK_FONT, color: '#000', padding: 2, autoSkip: false,
                   callback: v => Number(v).toFixed(1) },
          grid: { color: '#7a7a7a', lineWidth: 0.8, drawTicks: false },
          border: { display: false, dash: [1, 2] },
          title: { display: true, text: yTitle, color: '#000',
                   font: { family: "'Liberation Sans Narrow','Liberation Sans',sans-serif", size: 8.5 },
                   padding: { top: 13, bottom: 0 } },
          afterFit: s => { s.width = AXIS_W; }
        }
      }
    }
  });
});
</script>
</body>
</html>
